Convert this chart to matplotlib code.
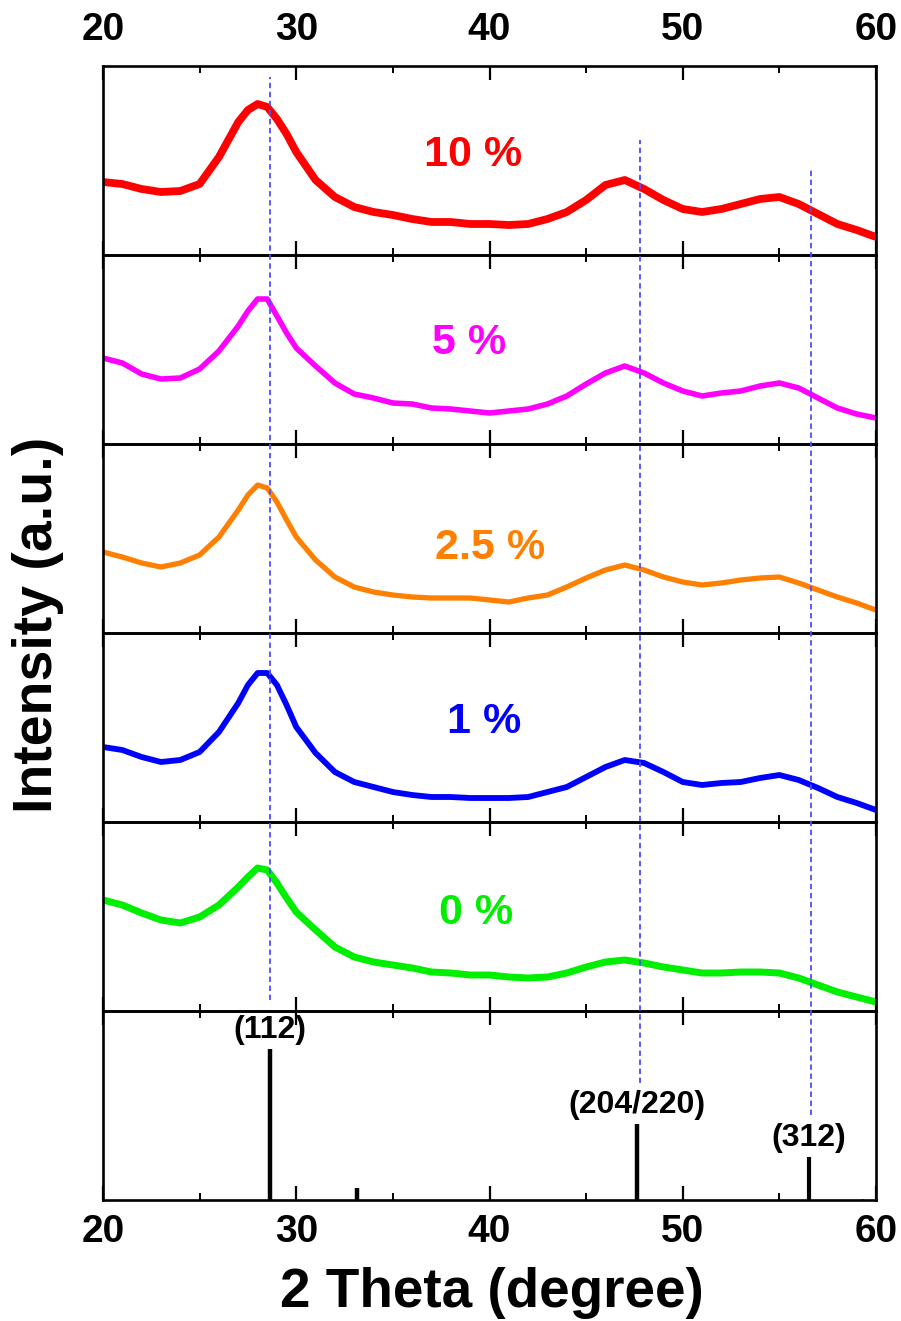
import matplotlib
matplotlib.use("Agg")
import matplotlib.pyplot as plt

plt.rcParams['font.family'] = ['Liberation Sans', 'DejaVu Sans']
plt.rcParams['font.weight'] = 'bold'

# ---------------- data ----------------
two_theta = [20, 21, 22, 23, 24, 25, 26, 27, 27.5, 28, 28.5, 29, 29.5, 30,
             31, 32, 33, 34, 35, 36, 37, 38, 39, 40, 41, 42, 43, 44, 45, 46,
             47, 48, 49, 50, 51, 52, 53, 54, 55, 56, 57, 58, 59, 60]

int_10 = [73, 71, 66, 63, 64, 71, 98, 133, 145, 151, 148, 136, 121, 103,
          75, 58, 48, 43, 40, 36, 33, 33, 31, 31, 30, 31, 36, 43, 55, 70,
          75, 66, 55, 46, 43, 46, 51, 56, 58, 51, 41, 31, 25, 18]
int_5 = [86, 81, 70, 65, 66, 75, 93, 118, 133, 145, 145, 128, 111, 96,
         78, 61, 50, 46, 41, 40, 36, 35, 33, 31, 33, 35, 40, 48, 60, 71,
         78, 71, 61, 53, 48, 51, 53, 58, 61, 56, 46, 36, 30, 26]
int_2_5 = [81, 76, 70, 66, 70, 78, 96, 123, 138, 148, 145, 131, 113, 96,
           73, 56, 46, 41, 38, 36, 35, 35, 35, 33, 31, 35, 38, 46, 55, 63,
           68, 63, 56, 51, 48, 50, 53, 55, 56, 50, 43, 36, 30, 23]
int_1 = [75, 72, 65, 60, 62, 70, 90, 119, 137, 149, 149, 137, 117, 95,
         69, 50, 40, 35, 30, 27, 25, 25, 24, 24, 24, 25, 30, 35, 45, 55,
         62, 59, 50, 40, 37, 39, 40, 44, 47, 42, 34, 25, 19, 12]
int_0 = [111, 106, 98, 91, 88, 94, 106, 124, 134, 143, 141, 128, 113, 99,
         81, 64, 54, 49, 46, 43, 39, 38, 36, 36, 34, 33, 34, 38, 44, 49,
         51, 48, 44, 41, 38, 38, 39, 39, 38, 33, 26, 19, 14, 9]

series = [int_10, int_5, int_2_5, int_1, int_0]
labels = ["10 %", "5 %", "2.5 %", "1 %", "0 %"]
colors = ["#FF0000", "#FF00FF", "#FF8000", "#0000FF", "#00EE00"]
line_widths = [5.6, 4.0, 3.8, 4.2, 5.0]
label_x = [39.15, 38.94, 40.03, 39.72, 39.30]
label_yfrac = [0.53, 0.535, 0.45, 0.53, 0.52]

ref_pos = [28.64, 33.12, 47.63, 56.51, 59.26]
ref_int = [100, 8, 50, 28.5, 0.7]
ref_hkl = ["(112)", "", "(204/220)", "(312)", ""]

guide_pos = [28.64, 47.79, 56.64]
guide_top = [0.990, 0.935, 0.908]
guide_bottom = [0.176, 0.103, 0.075]

x_ticks = [20, 30, 40, 50, 60]
x_minor = [25, 35, 45, 55]

# ---------------- layout ----------------
W, H = 901, 1321
fig = plt.figure(figsize=(W / 100, H / 100), dpi=100)
left_px, right_px = 103, 876
top_px, bottom_px = 66, 1200
n_panels = 6
ph = (bottom_px - top_px) / n_panels

axes = []
for i in range(n_panels):
    ytop = top_px + i * ph
    ax = fig.add_axes([left_px / W, 1 - (ytop + ph) / H,
                       (right_px - left_px) / W, ph / H])
    axes.append(ax)

for ax in axes:
    ax.set_xlim(20, 60)
    ax.set_xticks(x_ticks)
    ax.set_xticks(x_minor, minor=True)
    ax.set_yticks([])
    for s in ax.spines.values():
        s.set_linewidth(1.9)
    ax.tick_params(axis='x', which='major', direction='in', length=10, width=1.6,
                   top=True, bottom=True, labelbottom=False, labeltop=False,
                   labelsize=28, pad=14)
    ax.tick_params(axis='x', which='minor', direction='in', length=5, width=1.4,
                   top=True, bottom=True)
    ax.patch.set_alpha(0)

for i in range(5):
    ax = axes[i]
    ax.plot(two_theta, series[i], color=colors[i], lw=line_widths[i],
            solid_joinstyle='round', solid_capstyle='butt', zorder=2)
    ax.set_ylim(0, ph)
    ax.text(label_x[i], label_yfrac[i], labels[i], color=colors[i],
            transform=ax.get_xaxis_transform(), ha='center', va='center',
            fontsize=31, fontweight='bold')

axes[0].tick_params(axis='x', which='major', labeltop=True, pad=13)

ax_ref = axes[5]
ax_ref.set_ylim(0, 125)
ax_ref.vlines(ref_pos, 0, ref_int, colors='black',
              linewidths=[3.2, 3.2, 3.2, 3.0, 2.0], zorder=3)
for p, v, t in zip(ref_pos, ref_int, ref_hkl):
    if t:
        ax_ref.annotate(t, (p, v), xytext=(0, 3), textcoords='offset points',
                        ha='center', va='bottom', fontsize=23, fontweight='bold')
ax_ref.tick_params(axis='x', which='major', labelbottom=True, pad=10)

# guide lines overlay
ov = fig.add_axes([left_px / W, 1 - bottom_px / H, (right_px - left_px) / W,
                   (bottom_px - top_px) / H])
ov.set_xlim(20, 60)
ov.set_ylim(0, 1)
ov.axis('off')
ov.patch.set_alpha(0)
ov.vlines(guide_pos, guide_bottom, guide_top, colors='#4D4DFF',
          linestyles=(0, (3, 2)), linewidth=1.3, zorder=5)

fig.text(38 / W, 1 - 625 / H, "Intensity (a.u.)", rotation=90, ha='center',
         va='center', fontsize=40, fontweight='bold')
fig.text(492 / W, 1 - 1293 / H, "2 Theta (degree)", ha='center', va='center',
         fontsize=39.5, fontweight='bold')

fig.savefig("out.png", dpi=100)
